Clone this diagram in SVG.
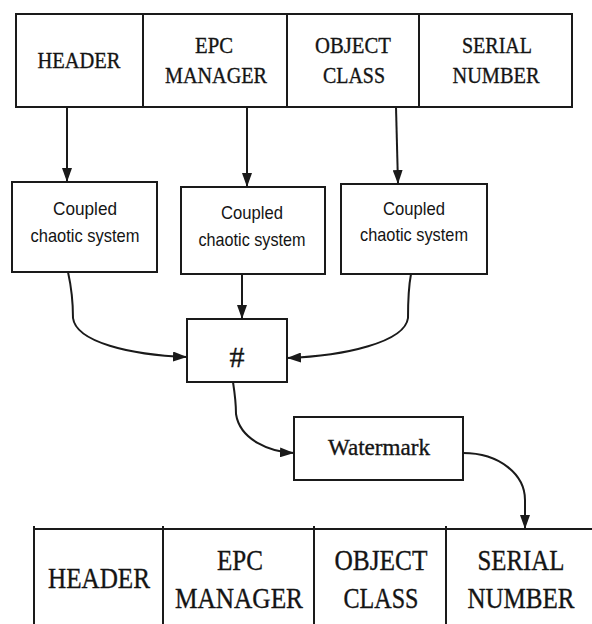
<svg xmlns="http://www.w3.org/2000/svg" width="592" height="624" viewBox="0 0 592 624">
<style>
.box{fill:#fff;stroke:#1a1a1a;stroke-width:2}
.ln{fill:none;stroke:#1a1a1a;stroke-width:2}
.con{fill:none;stroke:#1a1a1a;stroke-width:2}
.ts{font-family:"Liberation Serif","Times New Roman",serif;fill:#141414;stroke:#141414;stroke-width:0.35;text-anchor:middle}
.top{font-size:24px}
.bot{font-size:30px}
.cs{font-family:"Liberation Sans",Arial,sans-serif;font-size:19px;fill:#141414;text-anchor:middle}
</style>
<defs>
<marker id="ah" viewBox="0 0 14 10" refX="14" refY="5" markerWidth="14" markerHeight="10" orient="auto" markerUnits="userSpaceOnUse">
<path d="M0,0 L14,5 L0,10 z" fill="#1a1a1a"/>
</marker>
</defs>
<rect width="592" height="624" fill="#fff"/>

<g id="top-table">
<rect class="box" x="16" y="14" width="556" height="93"/>
<line class="ln" x1="143" y1="14" x2="143" y2="107"/>
<line class="ln" x1="287" y1="14" x2="287" y2="107"/>
<line class="ln" x1="419" y1="14" x2="419" y2="107"/>
<g id="top-header"><text class="ts top" x="79" y="68" textLength="83" lengthAdjust="spacingAndGlyphs">HEADER</text></g>
<g id="top-epc"><text class="ts top" x="214" y="53" textLength="38" lengthAdjust="spacingAndGlyphs">EPC</text><text class="ts top" x="216" y="83" textLength="102" lengthAdjust="spacingAndGlyphs">MANAGER</text></g>
<g id="top-object"><text class="ts top" x="353" y="53" textLength="76" lengthAdjust="spacingAndGlyphs">OBJECT</text><text class="ts top" x="354" y="83" textLength="62" lengthAdjust="spacingAndGlyphs">CLASS</text></g>
<g id="top-serial"><text class="ts top" x="497" y="53" textLength="70" lengthAdjust="spacingAndGlyphs">SERIAL</text><text class="ts top" x="496" y="83" textLength="87" lengthAdjust="spacingAndGlyphs">NUMBER</text></g>
</g>

<g id="ccs1">
<rect class="box" x="12" y="182" width="145" height="90"/>
<text class="cs" x="85" y="215" textLength="64" lengthAdjust="spacingAndGlyphs">Coupled</text>
<text class="cs" x="85" y="242" textLength="109" lengthAdjust="spacingAndGlyphs">chaotic system</text>
</g>
<g id="ccs2">
<rect class="box" x="181" y="187" width="144" height="87"/>
<text class="cs" x="252" y="219" textLength="62" lengthAdjust="spacingAndGlyphs">Coupled</text>
<text class="cs" x="252" y="246" textLength="107" lengthAdjust="spacingAndGlyphs">chaotic system</text>
</g>
<g id="ccs3">
<rect class="box" x="341" y="184" width="146" height="90"/>
<text class="cs" x="414" y="215" textLength="62" lengthAdjust="spacingAndGlyphs">Coupled</text>
<text class="cs" x="414" y="241" textLength="108" lengthAdjust="spacingAndGlyphs">chaotic system</text>
</g>

<g id="hash">
<rect class="box" x="187" y="319" width="100" height="63"/>
<text class="ts" x="237" y="367" font-size="30">#</text>
</g>

<g id="watermark">
<rect class="box" x="294" y="417" width="169" height="63"/>
<text class="ts" x="379" y="455" font-size="23" textLength="102" lengthAdjust="spacingAndGlyphs">Watermark</text>
</g>

<g id="bottom-table">
<rect class="box" x="34" y="529" width="600" height="120"/>
<line class="ln" x1="163" y1="526" x2="163" y2="624"/>
<line class="ln" x1="314" y1="526" x2="314" y2="624"/>
<line class="ln" x1="446" y1="526" x2="446" y2="624"/>
<line class="ln" x1="34" y1="526" x2="34" y2="529"/>
<g id="bot-header"><text class="ts bot" x="99" y="588" textLength="102" lengthAdjust="spacingAndGlyphs">HEADER</text></g>
<g id="bot-epc"><text class="ts bot" x="240" y="570" textLength="46" lengthAdjust="spacingAndGlyphs">EPC</text><text class="ts bot" x="239" y="608" textLength="128" lengthAdjust="spacingAndGlyphs">MANAGER</text></g>
<g id="bot-object"><text class="ts bot" x="381" y="570" textLength="93" lengthAdjust="spacingAndGlyphs">OBJECT</text><text class="ts bot" x="381" y="608" textLength="75" lengthAdjust="spacingAndGlyphs">CLASS</text></g>
<g id="bot-serial"><text class="ts bot" x="521" y="570" textLength="87" lengthAdjust="spacingAndGlyphs">SERIAL</text><text class="ts bot" x="521" y="608" textLength="107" lengthAdjust="spacingAndGlyphs">NUMBER</text></g>
</g>

<g id="connectors">
<path class="con" d="M67,107 L67,182" marker-end="url(#ah)"/>
<path class="con" d="M247,107 L247,187" marker-end="url(#ah)"/>
<path class="con" d="M396,107 L398,184" marker-end="url(#ah)"/>
<path class="con" d="M68,272 C72,290 73,305 73,318 C76,342 130,355 187,357" marker-end="url(#ah)"/>
<path class="con" d="M242,274 L242,319" marker-end="url(#ah)"/>
<path class="con" d="M411,274 C408,290 408,305 408,318 C405,342 345,356 287,358" marker-end="url(#ah)"/>
<path class="con" d="M233,382 C235,395 236,405 236,414 C240,440 270,452 294,453" marker-end="url(#ah)"/>
<path class="con" d="M463,453 C500,453 525,475 525,500 L525,529" marker-end="url(#ah)"/>
</g>
</svg>
